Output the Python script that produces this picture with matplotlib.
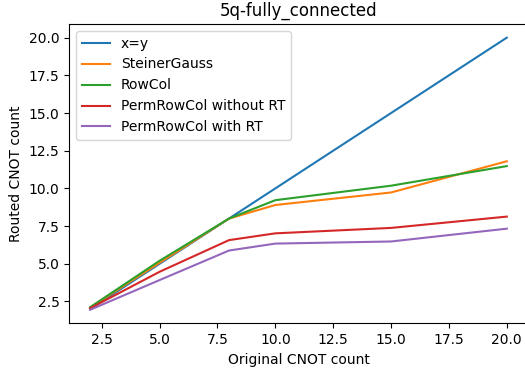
import matplotlib
matplotlib.use("Agg")
import matplotlib.pyplot as plt

# Data
x = [2, 5, 8, 10, 15, 20]
steiner_gauss = [2.1, 5.07, 8.0, 8.9, 9.73, 11.8]
rowcol = [2.12, 5.2, 8.0, 9.22, 10.18, 11.48]
perm_no_rt = [2.05, 4.47, 6.57, 7.02, 7.38, 8.13]
perm_rt = [1.95, 3.92, 5.88, 6.34, 6.48, 7.33]

fig = plt.figure(figsize=(5.25, 3.7), dpi=100)
# right edge of the axes sits just outside the canvas, as in the cropped original
ax = fig.add_axes([0.132, 0.126, 0.873, 0.809])

ax.plot(x, x, label="x=y")
ax.plot(x, steiner_gauss, label="SteinerGauss")
ax.plot(x, rowcol, label="RowCol")
ax.plot(x, perm_no_rt, label="PermRowCol without RT")
ax.plot(x, perm_rt, label="PermRowCol with RT")

ax.set_title("5q-fully_connected")
ax.set_xlabel("Original CNOT count")
ax.set_ylabel("Routed CNOT count")
ax.legend(loc="upper left")

fig.savefig("out.png", dpi=100)
